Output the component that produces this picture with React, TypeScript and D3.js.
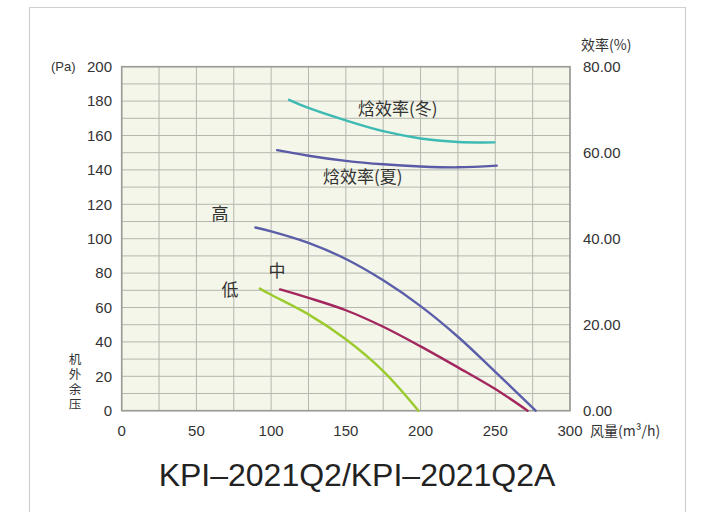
import React from "react";
import * as d3 from "d3";

// airflow (m³/h) vs external static pressure (Pa)
const highFlow = [89.5, 100, 125, 150, 175, 200, 225, 250, 277];
const highPa = [106.5, 104.3, 97.6, 88.2, 75.8, 60.8, 43.0, 22.6, 0];

const midFlow = [106, 125, 150, 175, 200, 225, 250, 271.6];
const midPa = [70.5, 65.6, 58.4, 48.8, 37.4, 25.2, 12.6, 0];

const lowFlow = [92.4, 100, 125, 150, 175, 198.6];
const lowPa = [71, 67.4, 56, 41.5, 23, 0];

// enthalpy efficiency (%) on the right axis
const winterFlow = [112, 125, 150, 175, 200, 225, 249.4];
const winterEff = [72.3, 70.4, 67.5, 65.0, 63.3, 62.5, 62.4];

const summerFlow = [104, 125, 150, 175, 200, 225, 251];
const summerEff = [60.6, 59.3, 58.1, 57.3, 56.8, 56.6, 57.0];

const xTicks = [0, 50, 100, 150, 200, 250, 300];
const yTicks = [0, 20, 40, 60, 80, 100, 120, 140, 160, 180, 200];
const effTicks = [0, 20, 40, 60, 80];

const FONT = "'Liberation Sans', Arial, 'Noto Sans CJK SC', sans-serif";
const CJK = "'Noto Sans CJK SC', sans-serif";

export default function App() {
  const x = d3.scaleLinear().domain([0, 300]).range([121.7, 570]);
  const y = d3.scaleLinear().domain([0, 200]).range([410.7, 66.7]);
  const yEff = d3.scaleLinear().domain([0, 80]).range([410.7, 66.7]);

  const paLine = d3
    .line<[number, number]>()
    .x((d) => x(d[0]))
    .y((d) => y(d[1]))
    .curve(d3.curveCatmullRom.alpha(0.5));
  const effLine = d3
    .line<[number, number]>()
    .x((d) => x(d[0]))
    .y((d) => yEff(d[1]))
    .curve(d3.curveCatmullRom.alpha(0.5));

  const zip = (a: number[], b: number[]) => a.map((v, i) => [v, b[i]] as [number, number]);

  const vGrid = d3.range(0, 301, 25);
  const hGrid = d3.range(0, 201, 10);

  const curves = [
    { d: effLine(zip(winterFlow, winterEff)), c: "#3dbab3" },
    { d: effLine(zip(summerFlow, summerEff)), c: "#5b5aa6" },
    { d: paLine(zip(highFlow, highPa)), c: "#5b5ea8" },
    { d: paLine(zip(midFlow, midPa)), c: "#a3275e" },
    { d: paLine(zip(lowFlow, lowPa)), c: "#9bcb2e" },
  ];

  return (
    <svg
      width={701}
      height={512}
      style={{ position: "absolute", left: 0, top: 0, background: "#fff" }}
    >
      {/* outer frame */}
      <path d="M29.5,520 V7.5 H685.5 V520" fill="none" stroke="#cfcfcf" strokeWidth={1.2} />

      {/* plot background */}
      <rect
        x={x(0)}
        y={y(200)}
        width={x(300) - x(0)}
        height={y(0) - y(200)}
        fill="#f3f6e8"
      />
      {vGrid.map((v) => (
        <line key={"v" + v} x1={x(v)} x2={x(v)} y1={y(0)} y2={y(200)} stroke="#b5b7b0" strokeWidth={1} />
      ))}
      {hGrid.map((v) => (
        <line key={"h" + v} x1={x(0)} x2={x(300)} y1={y(v)} y2={y(v)} stroke="#b5b7b0" strokeWidth={1} />
      ))}
      <rect
        x={x(0)}
        y={y(200)}
        width={x(300) - x(0)}
        height={y(0) - y(200)}
        fill="none"
        stroke="#9a9b96"
        strokeWidth={1.6}
      />

      {curves.map((k, i) => (
        <path key={i} d={k.d || ""} fill="none" stroke={k.c} strokeWidth={2.4} strokeLinecap="round" />
      ))}

      {/* left axis labels */}
      <g fontFamily={FONT} fontSize={15} fill="#333">
        {yTicks.map((t) => (
          <text key={t} x={112} y={y(t)} dy="0.35em" textAnchor="end">
            {t}
          </text>
        ))}
        <text x={51} y={y(200)} dy="0.35em" fontSize={13}>
          (Pa)
        </text>
        {xTicks.map((t) => (
          <text key={t} x={x(t)} y={431} dy="0.35em" textAnchor="middle">
            {t}
          </text>
        ))}
        {effTicks.map((t) => (
          <text key={t} x={583} y={yEff(t)} dy="0.35em">
            {t.toFixed(2)}
          </text>
        ))}
      </g>

      {/* axis titles */}
      <g fontFamily={CJK} fontSize={14} fill="#333">
        <text x={581} y={45} dy="0.35em">
          效率(%)
        </text>
        <text x={590} y={431} dy="0.35em">
          风量(m³/h)
        </text>
      </g>
      <text
        x={75}
        y={353}
        fontFamily={CJK}
        fontSize={12.5}
        fill="#333"
        style={{ writingMode: "vertical-rl", letterSpacing: "2.5px" }}
      >
        机外余压
      </text>

      {/* curve labels */}
      <g fontFamily={CJK} fontSize={17} fill="#333">
        <text x={358} y={109} dy="0.35em">
          焓效率(冬)
        </text>
        <text x={323} y={177} dy="0.35em">
          焓效率(夏)
        </text>
        <text x={220} y={214} dy="0.35em" textAnchor="middle">
          高
        </text>
        <text x={277} y={271} dy="0.35em" textAnchor="middle">
          中
        </text>
        <text x={230} y={290} dy="0.35em" textAnchor="middle">
          低
        </text>
      </g>

      {/* model name */}
      <text
        x={357}
        y={475}
        dy="0.35em"
        textAnchor="middle"
        fontFamily={FONT}
        fontSize={32}
        fill="#222"
      >
        KPI–2021Q2/KPI–2021Q2A
      </text>
    </svg>
  );
}
